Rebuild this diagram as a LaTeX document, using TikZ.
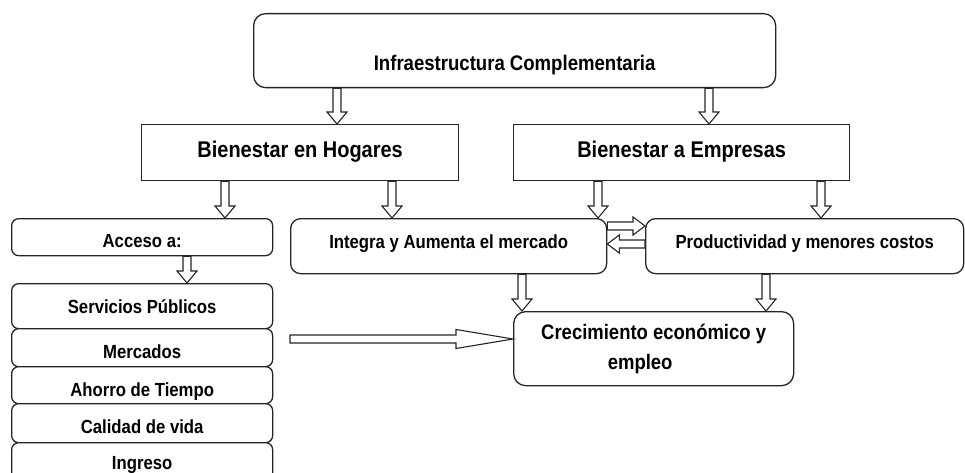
\documentclass[tikz,border=0pt]{standalone}
\usepackage{fontspec}
\newfontfamily\arialn[FakeStretch=0.88]{Liberation Sans}
\usetikzlibrary{calc}
\newcommand\szS{\fontsize{19}{23}\selectfont}
\newcommand\szM{\fontsize{21}{30}\selectfont}
\newcommand\szT{\fontsize{21.1}{25}\selectfont}
\newcommand\szL{\fontsize{22.7}{27}\selectfont}
\tikzset{
  boxbase/.style={draw=black!85, line width=1.3pt, fill=white, inner sep=0pt,
    anchor=north west, font=\arialn\bfseries, text=black},
  sqbox/.style={boxbase},
  rbox/.style={boxbase, rounded corners=#1},
  harrow/.style={draw=black!85, line width=1.1pt, fill=white, line join=miter},
}
% downward hollow arrow
\newcommand\darr[2]{\path[harrow] let \p1=(#1),\p2=(#2) in
  (\x1-4pt,\y1) -- (\x1-4pt,\y2+12pt) -- (\x1-10pt,\y2+12pt) -- (\x1,\y2)
  -- (\x1+10pt,\y2+12pt) -- (\x1+4pt,\y2+12pt) -- (\x1+4pt,\y1) -- cycle;}
% rightward hollow arrow: from, to, shaft half, head half, head length
\newcommand\rarr[5]{\path[harrow] let \p1=(#1),\p2=(#2) in
  (\x1,\y1-#3) -- (\x2-#5,\y1-#3) -- (\x2-#5,\y1-#4) -- (\x2,\y1)
  -- (\x2-#5,\y1+#4) -- (\x2-#5,\y1+#3) -- (\x1,\y1+#3) -- cycle;}
% leftward hollow arrow
\newcommand\larr[5]{\path[harrow] let \p1=(#1),\p2=(#2) in
  (\x1,\y1-#3) -- (\x2+#5,\y1-#3) -- (\x2+#5,\y1-#4) -- (\x2,\y1)
  -- (\x2+#5,\y1+#4) -- (\x2+#5,\y1+#3) -- (\x1,\y1+#3) -- cycle;}
\begin{document}
\begin{tikzpicture}[x=1pt,y=-1pt]
\fill[white] (0,0) rectangle (965,473);
\useasboundingbox (0,0) rectangle (965,473);

\node[rbox=12pt, minimum width=522pt, minimum height=74pt, font=\arialn\bfseries\szT,
  text height=40pt, text depth=0pt] (top) at (253,13) {Infraestructura Complementaria};

\node[sqbox, minimum width=317pt, minimum height=56pt, font=\arialn\bfseries\szL,
  text height=16.3pt, text depth=6pt] (hog) at (141,124) {Bienestar en Hogares};
\node[sqbox, minimum width=336pt, minimum height=56pt, font=\arialn\bfseries\szL,
  text height=16.3pt, text depth=6pt] (emp) at (513,124) {Bienestar a Empresas};

\node[rbox=7pt, minimum width=261pt, minimum height=37pt, font=\arialn\bfseries\szS,
  text height=20.6pt, text depth=0pt] (acc) at (11,218) {Acceso a:};

\node[rbox=10pt, minimum width=316pt, minimum height=55pt, font=\arialn\bfseries\szS,
  text height=13.6pt, text depth=8pt] (int) at (290,218) {Integra y Aumenta el mercado};
\node[rbox=10pt, minimum width=318pt, minimum height=55pt, font=\arialn\bfseries\szS,
  text height=13.6pt, text depth=8pt] (prod) at (645,218) {Productividad y menores costos};

\node[rbox=12pt, minimum width=280pt, minimum height=74pt, font=\arialn\bfseries\szM,
  align=center] (cre) at (513,311) {Crecimiento económico y\\\hspace*{-27pt}empleo};

% stacked list
\node[rbox=7pt, minimum width=261pt, minimum height=45pt, font=\arialn\bfseries\szS,
  text height=14.6pt, text depth=0pt] (s1) at (11,283) {Servicios Públicos};
\node[rbox=7pt, minimum width=261pt, minimum height=38pt, font=\arialn\bfseries\szS,
  text height=21.6pt, text depth=0pt] (s2) at (11,328) {Mercados};
\node[rbox=7pt, minimum width=261pt, minimum height=37pt, font=\arialn\bfseries\szS,
  text height=22.6pt, text depth=0pt] (s3) at (11,366) {Ahorro de Tiempo};
\node[rbox=7pt, minimum width=261pt, minimum height=39pt, font=\arialn\bfseries\szS,
  text height=20.6pt, text depth=0pt] (s4) at (11,403) {Calidad de vida};
\node[rbox=7pt, minimum width=261pt, minimum height=45pt, font=\arialn\bfseries\szS,
  text height=13.6pt, text depth=5pt] (s5) at (11,442) {Ingreso};

% arrow positions
\coordinate (ax1) at (337,0);
\coordinate (ax2) at (709,0);
\coordinate (ax3) at (225,0);
\coordinate (ax4) at (392,0);
\coordinate (ax5) at (598,0);
\coordinate (ax6) at (821,0);
\coordinate (ax7) at (187,0);
\coordinate (ax8) at (522,0);
\coordinate (ax9) at (766,0);
\coordinate (hy1) at (0,226);
\coordinate (hy2) at (0,244);
\coordinate (bigstart) at (290,339);

\darr{ax1 |- top.south}{ax1 |- hog.north}
\darr{ax2 |- top.south}{ax2 |- emp.north}
\darr{ax3 |- hog.south}{ax3 |- acc.north}
\darr{ax4 |- hog.south}{ax4 |- int.north}
\darr{ax5 |- emp.south}{ax5 |- int.north}
\darr{ax6 |- emp.south}{ax6 |- prod.north}
\darr{ax7 |- acc.south}{ax7 |- s1.north}
\darr{ax8 |- int.south}{ax8 |- cre.north}
\darr{ax9 |- prod.south}{ax9 |- cre.north}

\rarr{int.east |- hy1}{prod.west |- hy1}{4pt}{9pt}{12pt}
\larr{prod.west |- hy2}{int.east |- hy2}{4pt}{9pt}{12pt}

\rarr{bigstart}{cre.west |- bigstart}{4pt}{9.5pt}{57pt}
\end{tikzpicture}
\end{document}
